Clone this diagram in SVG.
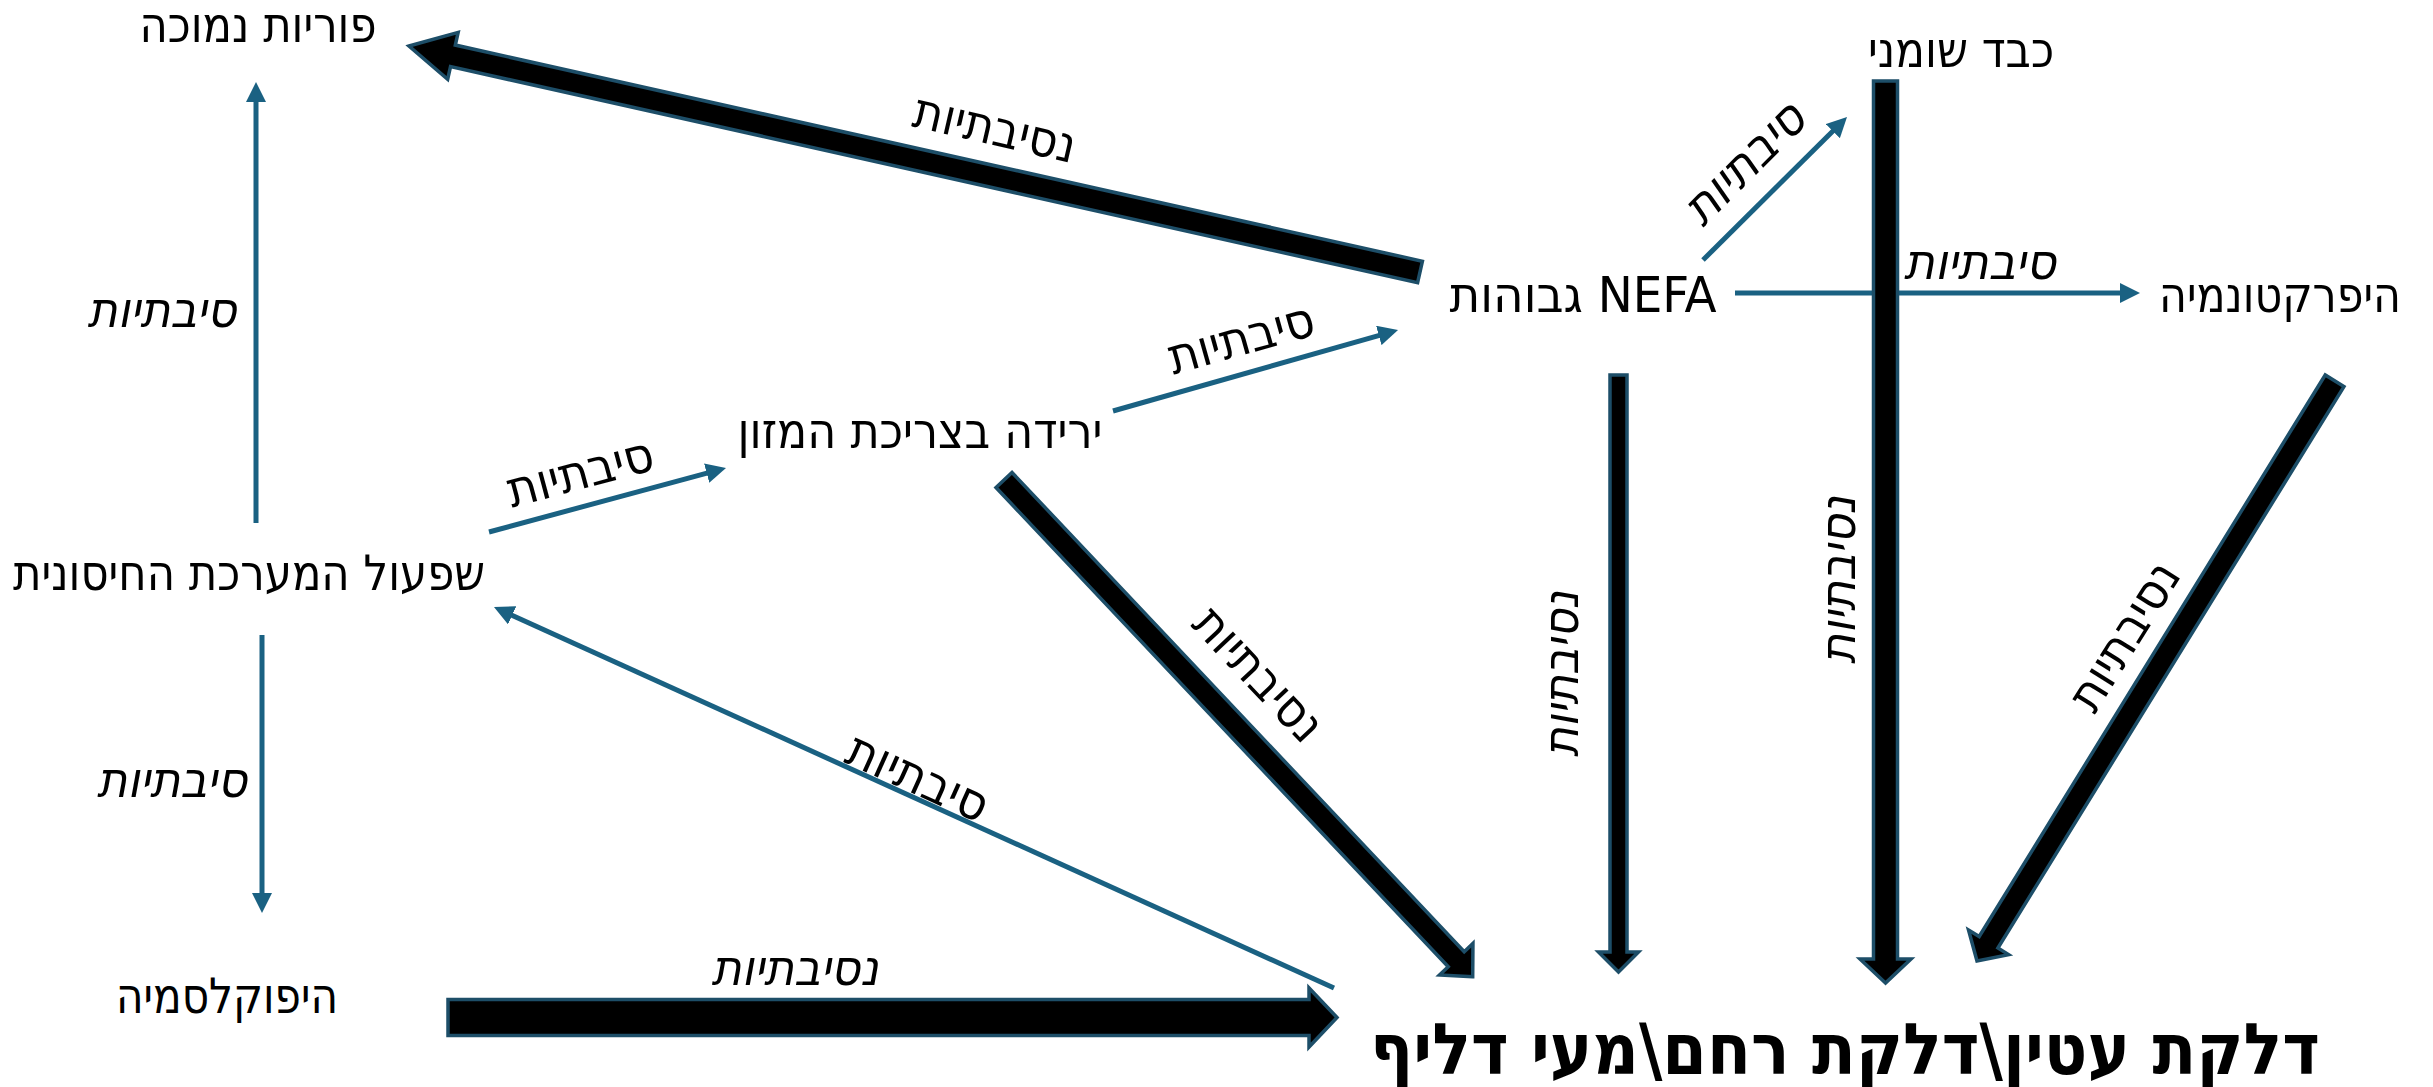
<svg xmlns="http://www.w3.org/2000/svg" width="2433" height="1087" viewBox="0 0 2433 1087">
<defs>
<style>
text{font-family:"DejaVu Sans Condensed","DejaVu Sans","Noto Sans",sans-serif;font-stretch:condensed;fill:#000;direction:rtl;unicode-bidi:embed;text-anchor:middle}
.n{font-size:49px}
.t{font-size:71px;font-weight:bold}
.lu{font-size:50px}
.li{font-size:50px;font-style:italic}
.thin{stroke:#1a6182;stroke-width:5;fill:none;marker-end:url(#ah)}
.big{fill:#000;stroke:#1d4e68;stroke-width:3.5;stroke-linejoin:miter}
</style>
<marker id="ah" markerUnits="userSpaceOnUse" markerWidth="20" markerHeight="20" refX="8" refY="10" orient="auto">
<path d="M0,0 L20,10 L0,20 Z" fill="#1a6182"/>
</marker>
</defs>
<rect width="2433" height="1087" fill="#fff"/>
<g id="connectors">
<line class="thin" x1="256" y1="523" x2="256" y2="94"/>
<line class="thin" x1="262" y1="635" x2="262" y2="901"/>
<line class="thin" x1="489" y1="532" x2="714.4" y2="471.1"/>
<line class="thin" x1="1113" y1="411" x2="1386.5" y2="333.3"/>
<line class="thin" x1="1703" y1="260" x2="1838.5" y2="125.5"/>
<line class="thin" x1="1735" y1="293" x2="2128" y2="293"/>
<line class="thin" x1="1334" y1="988" x2="504.9" y2="612"/>
<polygon class="big" points="409,46 458.16,32.4 455.32,45.08 1422.4,261.26 1417.6,282.74 450.52,66.56 447.68,79.24"/>
<polygon class="big" points="1472.7,976.7 1439.5,975.03 1448.23,966.79 996,487.55 1012,472.45 1464.23,951.69 1472.96,943.45"/>
<polygon class="big" points="1618.5,972 1598.5,952 1610,952 1610,375 1627,375 1627,952 1638.5,952"/>
<polygon class="big" points="1885.5,983 1860,959 1873.5,959 1873.5,81 1897.5,81 1897.5,959 1911,959"/>
<polygon class="big" points="1977,961 1968.53,929.94 1979.18,936.5 2325.24,375.03 2343.96,386.57 1997.9,948.04 2008.55,954.6"/>
<polygon class="big" points="1337,1017.5 1309,988 1309,999.5 448,999.5 448,1035.5 1309,1035.5 1309,1047"/>
<text class="lu" transform="translate(995,128) rotate(13)" y="17" textLength="165" lengthAdjust="spacingAndGlyphs">נסיבתיות</text>
<text class="lu" transform="translate(1241,338) rotate(-15.7)" y="17" textLength="150" lengthAdjust="spacingAndGlyphs">סיבתיות</text>
<text class="lu" transform="translate(580,472) rotate(-15)" y="17" textLength="150" lengthAdjust="spacingAndGlyphs">סיבתיות</text>
<text class="lu" transform="translate(918,777) rotate(24.3)" y="17" textLength="150" lengthAdjust="spacingAndGlyphs">סיבתיות</text>
<text class="lu" transform="translate(1259,674) rotate(46.7)" y="17" textLength="165" lengthAdjust="spacingAndGlyphs">נסיבתיות</text>
<text class="lu" transform="translate(2124,636) rotate(-58)" y="17" textLength="165" lengthAdjust="spacingAndGlyphs">נסיבתיות</text>
<text class="li" transform="translate(1561,674) rotate(-90)" y="17" textLength="166" lengthAdjust="spacingAndGlyphs">נסיבתיות</text>
<text class="li" transform="translate(1838,580) rotate(-90)" y="17" textLength="168" lengthAdjust="spacingAndGlyphs">נסיבתיות</text>
<text class="li" transform="translate(1744,163) rotate(-45)" y="17" textLength="150" lengthAdjust="spacingAndGlyphs">סיבתיות</text>
<text class="li" x="1980" y="279" textLength="152" lengthAdjust="spacingAndGlyphs">סיבתיות</text>
<text class="li" x="162" y="327" textLength="149" lengthAdjust="spacingAndGlyphs">סיבתיות</text>
<text class="li" x="172" y="797" textLength="150" lengthAdjust="spacingAndGlyphs">סיבתיות</text>
<text class="li" x="795" y="985" textLength="167" lengthAdjust="spacingAndGlyphs">נסיבתיות</text>
</g>
<g id="node-fertility"><text class="n" x="258" y="42" textLength="237" lengthAdjust="spacingAndGlyphs">פוריות נמוכה</text></g>
<g id="node-fattyliver"><text class="n" x="1961" y="67" textLength="186" lengthAdjust="spacingAndGlyphs">כבד שומני</text></g>
<g id="node-nefa"><text class="n" x="1583" y="312" textLength="267" lengthAdjust="spacingAndGlyphs">NEFA גבוהות</text></g>
<g id="node-hyperketonemia"><text class="n" x="2280" y="312" textLength="242" lengthAdjust="spacingAndGlyphs">היפרקטונמיה</text></g>
<g id="node-intake"><text class="n" x="920" y="448" textLength="365" lengthAdjust="spacingAndGlyphs">ירידה בצריכת המזון</text></g>
<g id="node-immune"><text class="n" x="249" y="590" textLength="472" lengthAdjust="spacingAndGlyphs">שפעול המערכת החיסונית</text></g>
<g id="node-hypocalcemia"><text class="n" x="227" y="1013" textLength="222" lengthAdjust="spacingAndGlyphs">היפוקלסמיה</text></g>
<g id="node-disease"><text class="t" x="1845" y="1074" textLength="950" lengthAdjust="spacingAndGlyphs">דלקת עטין\דלקת רחם\מעי דליף</text></g>
</svg>
